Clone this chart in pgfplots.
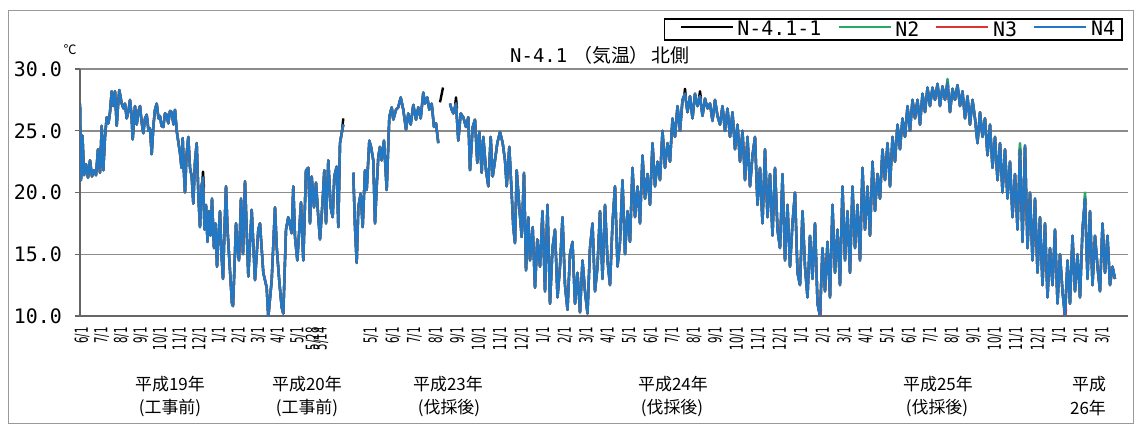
\documentclass[border=0pt]{standalone}
\usepackage{fontspec}
\usepackage{pgfplots}
\usepackage{pgfplotstable}
\pgfplotsset{compat=1.18}
\setmainfont{DejaVu Sans}
\newfontfamily\monofont{DejaVu Sans Mono}
\newfontfamily\jpfont{Noto Sans CJK JP}
\newfontfamily\xtfont[FakeStretch=0.57]{DejaVu Sans}
\definecolor{cN2}{RGB}{40,170,100}
\definecolor{cN3}{RGB}{220,50,50}
\definecolor{cN4}{RGB}{35,120,195}

\pgfplotstableread{
x y
80 27.2
81 21.0
82.5 24.6
84 21.4
86 22.3
88 21.2
90 22.6
92 21.3
94 21.8
96 21.4
98 23.5
100 21.6
101.7 25.4
103.3 21.8
105 24.5
106.7 26.1
108.5 25.6
110 26.5
111.7 28.2
113.3 27.0
115 28.2
116.7 25.4
118 27.0
119.3 28.3
121.7 27.2
123.5 26.8
125 27.2
126.7 26.0
128.5 26.6
130 27.5
131.5 26.3
132.7 24.3
135 27.0
136.7 25.5
138.5 26.6
140 27.0
141.5 25.8
143.3 24.8
145 26.0
146.7 26.3
148.5 25.0
150 25.2
151.7 23.1
153.5 25.5
155 26.7
156.7 27.2
158.5 26.0
160 26.2
161.5 25.4
163.3 25.3
165 26.4
166.7 26.3
168.3 25.6
170 26.6
171.7 26.5
173.5 25.5
175 26.7
176.7 25.0
178.5 24.0
180 23.2
181.5 22.0
182.7 24.4
184 21.5
185 20.0
186.5 23.0
188.3 24.5
190 22.0
191.7 21.3
193.3 19.1
195 22.5
196.7 24.0
198.5 19.5
200 17.2
201.5 20.5
203 21.2
204.5 17.0
206 19.0
207.5 16.0
209 18.5
210.5 16.5
212 19.5
214 15.5
215.5 17.5
217 14.0
218.5 16.5
220 18.5
221.5 15.0
223 13.0
224.5 17.0
226 20.5
227.5 17.0
229 15.0
230.5 13.0
232 11.0
233 10.8
234.5 14.0
236 17.5
237.5 15.5
239 14.5
241 19.5
243 15.0
245 20.9
248.3 13.2
251.7 18.6
255 12.9
258.3 17.0
260 17.5
263.3 13.5
266.7 12.3
268.3 9.9
271.7 12.9
275 18.8
276.7 15.6
279.3 12.8
281.7 10.7
283.3 10.2
286 17.0
288.3 18.0
291.7 16.7
293.3 20.5
295 16.4
297.3 14.5
299.3 17.0
301 19.2
303.3 14.5
306 21.8
308.3 22.0
310 17.5
311.7 21.3
314 18.8
316 20.8
318.3 18.0
320 16.2
322.7 19.4
324.3 21.8
326 17.5
328.3 22.6
330.7 18.8
332.7 18.0
334.3 21.3
336.7 22.1
338.3 17.2
340 24.0
341.7 24.8
343.3 25.5
}\blockA

\pgfplotstableread{
x y
353.3 21.6
355 17.2
356.7 14.3
358.3 18.8
360.7 19.9
362.7 17.2
365 21.8
366.7 20.2
369.3 24.2
371 23.7
373.3 22.6
375 17.5
376.7 20.5
378.3 22.9
380 23.7
381.7 22.6
384 24.2
386.7 20.2
389.3 26.1
391.7 26.9
393.3 25.9
396 26.7
398.3 26.9
400.7 27.7
403.3 26.7
406 25.1
408.3 26.4
410.7 25.5
413.3 27.1
416 25.9
418.3 26.9
420.7 26.0
423.3 28.1
425 27.2
427.3 27.7
429.3 26.7
431.7 27.2
434 25.3
436 25.6
438.3 24.0
}\blockBa

\pgfplotstableread{
x y
450 27.2
451.7 26.7
453.3 26.4
456 27.2
458.3 24.2
460.7 26.4
463.3 26.1
466 25.3
468.3 26.1
470 21.8
472.7 25.3
475 25.9
477.3 22.4
479.3 24.9
481.7 21.6
483.3 24.5
486 21.8
488.3 20.5
490.7 24.5
492.7 21.3
495 22.6
497.3 24.0
500 24.9
502.7 24.0
505 22.6
506.7 20.5
509.3 23.7
511.7 19.9
513.3 17.2
515 15.9
516.7 21.8
519.3 18.8
521.7 16.4
524 21.6
526 13.7
528.3 18.0
530 14.5
532.7 17.2
535 12.3
537.3 16.2
540 14.0
542.5 18.5
545 12.0
547.5 19.0
550 11.0
552.5 15.5
555 17.0
557.5 11.5
560 14.0
562.5 18.0
565 12.5
567.5 10.5
570 15.0
572.5 16.0
575 11.0
577.5 13.5
580 10.3
582.5 14.5
585 12.0
587.5 10.2
590 15.5
592.5 17.5
595 12.0
597.5 14.0
600 18.5
602.5 13.0
605 19.0
607.5 14.5
610 12.5
612.5 17.5
615 20.5
617.5 14.0
620 16.0
622.5 21.0
625 15.0
627.5 18.5
630 16.0
632.5 22.0
635 18.0
637.5 20.5
640 17.5
642.5 23.0
645 19.5
647.5 21.5
650 19.0
652.5 24.0
655 20.5
657.5 22.5
660 21.0
662.5 25.0
665 22.0
667.5 24.0
670 22.5
672.5 26.0
675 24.5
677.5 27.0
680 25.0
682.5 27.5
685 28.0
687.5 26.5
690 27.8
692.5 26.0
695 28.0
697.5 27.0
700 27.8
702.5 26.2
705 27.6
707.5 26.8
710 27.2
712.5 25.8
715 27.5
717.5 26.2
720 25.5
722.5 27.0
725 25.0
727.5 26.8
730 24.5
732.5 26.5
735 23.5
737.5 25.5
740 22.5
742.5 25.0
745 21.0
747.5 24.5
750 20.5
752.5 23.0
755 24.5
757.5 19.0
760 22.0
762.5 17.5
765 23.5
767.5 18.0
770 21.5
772.5 16.5
775 22.0
777.5 17.0
780 15.5
782.5 21.5
785 14.5
787.5 19.0
790 14.0
792.5 17.5
795 20.0
797.5 13.5
800 12.5
802.5 18.5
805 14.0
807.5 11.5
810 16.5
812.5 13.0
815 17.5
817.5 11.0
820 10.0
822.5 15.5
825 12.0
827.5 16.0
830 11.5
832.5 19.0
835 13.5
837.5 17.0
840 12.5
842.5 20.5
845 14.5
847.5 18.5
850 13.5
852.5 20.5
855 15.5
857.5 19.0
860 14.5
862.5 22.0
865 17.0
867.5 20.5
870 16.5
872.5 22.5
875 18.5
877.5 21.5
880 19.5
882.5 23.5
885 21.0
887.5 24.0
890 20.5
892.5 24.5
895 22.5
897.5 25.5
900 23.5
902.5 26.0
905 24.5
907.5 27.0
910 25.0
912.5 27.5
915 26.0
917.5 27.5
920 25.5
922.5 28.0
925 26.5
927.5 28.5
930 27.0
932.5 28.5
935 27.5
937.5 28.8
940 27.0
942.5 28.6
945 27.5
947.5 28.9
950 26.5
952.5 28.4
955 27.5
957.5 28.7
960 27.0
962.5 28.2
965 26.0
967.5 27.8
970 25.5
972.5 27.5
975 26.0
977.5 24.0
980 26.5
982.5 24.5
985 26.0
987.5 23.0
990 25.5
992.5 22.0
995 24.5
997.5 21.0
1000 24.0
1002.5 20.0
1005 23.5
1007.5 19.5
1010 22.5
1012.5 18.0
1015 21.5
1017.5 17.0
1020 23.5
1022.5 16.0
1025 23.8
1027.5 15.5
1030 20.0
1032.5 14.5
1035 19.5
1037.5 13.5
1040 18.0
1042.5 12.5
1045 17.5
1047.5 11.5
1050 15.5
1052.5 12.5
1055 17.0
1057.5 11.0
1060 15.0
1062.5 12.0
1065 10.0
1067.5 14.5
1070 11.0
1072.5 16.5
1075 12.0
1077.5 15.0
1080 11.5
1082.5 17.0
1085 19.5
1087.5 13.0
1090 18.5
1092.5 12.5
1095 16.5
1097.5 14.0
1100 12.0
1102.5 17.5
1105 13.5
1107.5 16.5
1110 12.5
1112.5 14.0
1115 13.0
}\blockBb

\begin{document}
\begin{tikzpicture}
\useasboundingbox (0,0) rectangle (1136bp,-425bp);
\draw[black!40, line width=1bp] (8bp,-10bp) rectangle (1133bp,-423bp);
\begin{axis}[
  at={(80bp,-316bp)}, anchor=south west, scale only axis,
  width=1048bp, height=247bp,
  xmin=80, xmax=1128, ymin=10, ymax=30,
  axis lines*=left,
  axis line style={draw=black!60, line width=1.5bp},
  ymajorgrids, grid style={draw=black!45, line width=1.5bp},
  ytick={10,15,20,25,30},
  tick align=outside, major tick length=5bp,
  ytick style={draw=black!60, line width=1.2bp},
  xtick style={draw=none},
  /pgf/number format/assume math mode=true,
  yticklabel style={/pgf/number format/fixed, /pgf/number format/fixed zerofill, /pgf/number format/precision=1,
    font=\monofont\fontsize{20}{20}\selectfont, inner sep=0pt},
  yticklabel shift=13bp,
  xtick={82,101.6,121.2,140.8,160.4,180,199.6,219.2,238.8,258.4,278,297.6,313,321,371,393,414.5,436,457.5,479,500.5,522,543.5,565,586.5,608,629.5,651,672.5,694,715.5,737,758.5,780,801.5,823,844.5,866,887.5,909,930.5,952,973.5,995,1016.5,1038,1059.5,1081,1102.5},
  xticklabels={6/1,7/1,8/1,9/1,10/1,11/1,12/1,1/1,2/1,3/1,4/1,5/1,5/28,5/14,5/1,6/1,7/1,8/1,9/1,10/1,11/1,12/1,1/1,2/1,3/1,4/1,5/1,6/1,7/1,8/1,9/1,10/1,11/1,12/1,1/1,2/1,3/1,4/1,5/1,6/1,7/1,8/1,9/1,10/1,11/1,12/1,1/1,2/1,3/1},
  xticklabel style={rotate=90, anchor=east, inner sep=0pt, font=\xtfont\fontsize{18}{18}\selectfont},
  xticklabel shift=6bp,
  legend columns=4,
  legend cell align=left,
  legend style={at={(0.9952,1.2065)}, anchor=north east, draw=black, line width=1.6bp,
    inner xsep=3bp, inner ysep=1.5bp, font=\monofont\fontsize{20}{20}\selectfont,
    /tikz/every even column/.append style={column sep=0bp},
    nodes={inner xsep=4bp, inner ysep=1bp}},
  legend image code/.code={\path (0bp,0bp); \draw[#1, line width=1.5bp] (12bp,0.25em) -- (64bp,0.25em);},
  every axis plot/.append style={line width=2.4bp, line join=round},
]
\addplot[black] table {\blockA};
\addlegendentry{N-4.1-1}
\addplot[black, forget plot] table {\blockBa};
\addplot[black, forget plot] table {\blockBb};
\addplot[black, forget plot] coordinates {(440,27.3) (441.5,27.9) (443,28.5)};
\addplot[black, forget plot] coordinates {(202,20.4) (203,21.7) (204,20.4)};
\addplot[black, forget plot] coordinates {(342,25.0) (343.3,26.0)};
\addplot[black, forget plot] coordinates {(454.8,26.8) (456,27.7) (457,26.8)};
\addplot[black, forget plot] coordinates {(684,27.6) (685,28.4) (686,27.6)};
\addplot[black, forget plot] coordinates {(699,27.6) (700,28.2) (701,27.6)};
\addplot[cN2] table {\blockA};
\addlegendentry{N2}
\addplot[cN2, forget plot] table {\blockBa};
\addplot[cN2, forget plot] table {\blockBb};
\addplot[cN2, forget plot] coordinates {(1084,19.0) (1085,20.0) (1086,19.0)};
\addplot[cN2, forget plot] coordinates {(946.5,28.5) (947.5,29.2) (948.5,28.5)};
\addplot[cN2, forget plot] coordinates {(1019,23.0) (1020,24.0) (1021,23.0)};
\addplot[cN3] table {\blockA};
\addlegendentry{N3}
\addplot[cN3, forget plot] table {\blockBa};
\addplot[cN3, forget plot] table {\blockBb};
\addplot[cN3, forget plot] coordinates {(819,10.6) (820,9.7) (821,10.6)};
\addplot[cN3, forget plot] coordinates {(1064,10.6) (1065,9.7) (1066,10.6)};
\addplot[cN4] table {\blockA};
\addlegendentry{N4}
\addplot[cN4, forget plot] table {\blockBa};
\addplot[cN4, forget plot] table {\blockBb};
\end{axis}
\node[font=\jpfont\fontsize{13}{13}\selectfont] at (70bp,-50bp) {℃};
\node at (600bp,-55bp) {{\monofont\fontsize{19}{19}\selectfont N-4.1}\hspace{6bp}{\jpfont\fontsize{19}{19}\selectfont （気温）\hspace{3bp}北側}};
\begin{scope}[every node/.style={font=\jpfont\fontsize{17}{17}\selectfont, inner sep=0pt}]
\node at (170bp,-384bp) {平成19年};
\node at (170bp,-408bp) {(工事前)};
\node at (307bp,-384bp) {平成20年};
\node at (307bp,-408bp) {(工事前)};
\node at (448bp,-384bp) {平成23年};
\node at (449bp,-408bp) {(伐採後)};
\node at (673bp,-384bp) {平成24年};
\node at (672bp,-408bp) {(伐採後)};
\node at (938bp,-384bp) {平成25年};
\node at (937bp,-408bp) {(伐採後)};
\node at (1089bp,-384bp) {平成};
\node at (1088bp,-408bp) {26年};
\end{scope}
\end{tikzpicture}
\end{document}
